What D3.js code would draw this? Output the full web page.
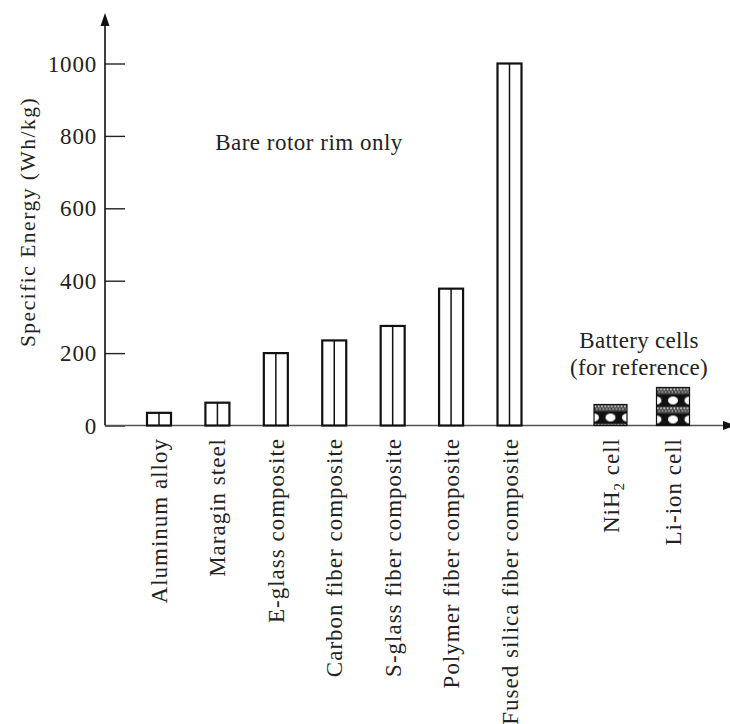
<!DOCTYPE html>
<html><head><meta charset="utf-8">
<script src="https://cdn.jsdelivr.net/npm/d3@7"></script>
<style>
body{margin:0;background:#fff;}
text{font-family:"Liberation Serif","Times New Roman",serif;fill:#222;}
</style></head>
<body>
<svg id="chart" width="730" height="724"></svg>
<script>
const rotorCats = ["Aluminum alloy","Maragin steel","E-glass composite","Carbon fiber composite","S-glass fiber composite","Polymer fiber composite","Fused silica fiber composite"];
const rotorValues = [35, 63, 200, 235, 275, 378, 1000];
const batteryCats = ["NiH2 cell","Li-ion cell"];
const batteryValues = [58, 105];
const yTicks = [0, 200, 400, 600, 800, 1000];
const yTitle = "Specific Energy (Wh/kg)";
const rotorNote = "Bare rotor rim only";
const batteryNote = ["Battery cells", "(for reference)"];

const svg = d3.select("#chart");
const fs = 23;

const y = d3.scaleLinear().domain([0, 1000]).range([425.5, 63.5]);
const xR = d3.scalePoint().domain(rotorCats).range([159, 509.5]);
const xB = d3.scalePoint().domain(batteryCats).range([610.5, 673]);
const bwR = 24, bwB = 33;
const axisX = 105;

const defs = svg.append("defs");
// battery patterns, aligned to each bar
batteryCats.forEach((c, k) => {
  const pw = bwB / 2, ph = 19;
  const pat = defs.append("pattern").attr("id", "batt" + k).attr("patternUnits", "userSpaceOnUse")
    .attr("width", pw).attr("height", ph)
    .attr("x", xB(c) - bwB / 2).attr("y", y(batteryValues[k]));
  pat.append("rect").attr("width", pw).attr("height", ph).attr("fill", "#111");
  pat.append("rect").attr("width", pw).attr("height", 7).attr("fill", "#444");
  for (let i = 0; i < 5; i++) {
    pat.append("rect").attr("x", i * 3.3 + 0.5).attr("y", 1).attr("width", 1.6).attr("height", 1.6).attr("fill", "#eee");
    pat.append("rect").attr("x", i * 3.3 + 2).attr("y", 3.8).attr("width", 1.4).attr("height", 1.4).attr("fill", "#ccc");
  }
  pat.append("ellipse").attr("cx", 0).attr("cy", 13).attr("rx", 5).attr("ry", 4).attr("fill", "#fff");
  pat.append("ellipse").attr("cx", pw).attr("cy", 13).attr("rx", 5).attr("ry", 4).attr("fill", "#fff");
});

// y axis ticks via d3 axis
const yAxis = d3.axisRight(y).tickValues(yTicks).tickSize(20).tickFormat("");
const gy = svg.append("g").attr("transform", `translate(${axisX},0)`).call(yAxis);
gy.select(".domain").remove();
gy.selectAll(".tick line").attr("stroke", "#222").attr("stroke-width", 1.4);
svg.selectAll("text.ylab").data(yTicks).join("text").attr("class", "ylab")
  .attr("x", 97).attr("y", d => y(d)).attr("dy", "0.35em").attr("text-anchor", "end")
  .attr("font-size", fs).attr("letter-spacing", 0.8).text(d => d);
// y axis line + arrow
svg.append("line").attr("x1", axisX).attr("x2", axisX).attr("y1", y(0)).attr("y2", 22)
  .attr("stroke", "#111").attr("stroke-width", 1.6);
svg.append("path").attr("d", `M${axisX},13 L${axisX - 4.5},26 L${axisX + 4.5},26 Z`).attr("fill", "#111");
// x axis line + arrow
svg.append("line").attr("x1", axisX).attr("x2", 724).attr("y1", y(0)).attr("y2", y(0))
  .attr("stroke", "#555").attr("stroke-width", 1.6);
svg.append("path").attr("d", `M736,${y(0)} L723,${y(0) - 4.5} L723,${y(0) + 4.5} Z`).attr("fill", "#111");

// y title
svg.append("text").attr("transform", `translate(27,222) rotate(-90)`).attr("text-anchor", "middle")
  .attr("dy", "0.35em").attr("font-size", 21.5).attr("letter-spacing", 1.5).text(yTitle);

// rotor bars
const rb = svg.append("g").selectAll("g").data(rotorCats.map((c, i) => ({c, v: rotorValues[i]}))).join("g");
rb.append("rect").attr("x", d => xR(d.c) - bwR / 2).attr("y", d => y(d.v))
  .attr("width", bwR).attr("height", d => y(0) - y(d.v))
  .attr("fill", "#fff").attr("stroke", "#111").attr("stroke-width", 2.2);
rb.append("line").attr("x1", d => xR(d.c)).attr("x2", d => xR(d.c))
  .attr("y1", d => y(d.v)).attr("y2", y(0)).attr("stroke", "#111").attr("stroke-width", 1.5);

// battery bars
svg.append("g").selectAll("rect").data(batteryCats).join("rect")
  .attr("x", d => xB(d) - bwB / 2).attr("y", (d, i) => y(batteryValues[i]))
  .attr("width", bwB).attr("height", (d, i) => y(0) - y(batteryValues[i]))
  .attr("fill", (d, i) => `url(#batt${i})`).attr("stroke", "#111").attr("stroke-width", 1.2);

// x labels
const labTop = 438;
svg.selectAll("text.xr").data(rotorCats).join("text").attr("class", "xr")
  .attr("transform", d => `translate(${xR(d)},${labTop}) rotate(-90)`)
  .attr("text-anchor", "end").attr("dy", "0.35em").attr("font-size", fs).attr("letter-spacing", 1)
  .text(d => d);
const bl = svg.selectAll("text.xb").data(batteryCats).join("text").attr("class", "xb")
  .attr("transform", d => `translate(${xB(d)},${labTop}) rotate(-90)`)
  .attr("text-anchor", "end").attr("dy", "0.35em").attr("font-size", fs).attr("letter-spacing", 1);
bl.each(function (d) {
  const t = d3.select(this);
  if (d.startsWith("NiH2")) {
    t.append("tspan").text("NiH");
    t.append("tspan").attr("font-size", 15).attr("dy", 5).text("2");
    t.append("tspan").attr("dy", -5).text(" cell");
  } else t.text(d);
});

// annotations
svg.append("text").attr("x", 309).attr("y", 150).attr("text-anchor", "middle")
  .attr("font-size", fs).attr("letter-spacing", 0.5).text(rotorNote);
svg.selectAll("text.bn").data(batteryNote).join("text").attr("class", "bn")
  .attr("x", 639).attr("y", (d, i) => 348 + i * 27).attr("text-anchor", "middle")
  .attr("font-size", fs).attr("letter-spacing", 0.3).text(d => d);
</script>
</body></html>
